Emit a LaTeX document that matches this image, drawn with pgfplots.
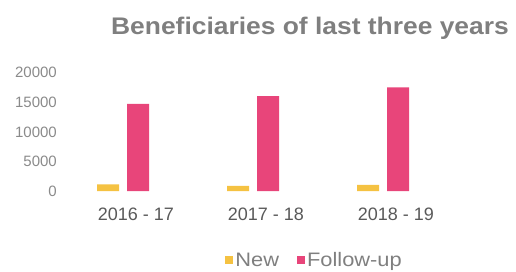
\documentclass[border=0pt]{standalone}
\usepackage{pgfplots}
\pgfplotsset{compat=1.18}
\usepackage{graphicx}
\usepackage{fontspec}
\setmainfont{Liberation Sans}
\definecolor{newc}{HTML}{F5C242}
\definecolor{fupc}{HTML}{E8457A}
\definecolor{titlec}{HTML}{7F7F7F}
\definecolor{tickc}{HTML}{8A8A8A}
\definecolor{labc}{HTML}{595959}
\begin{document}
\begin{tikzpicture}
\path[use as bounding box] (0,0) rectangle (516pt,271pt);
\node[anchor=base, text=titlec, font=\fontsize{24}{28}\selectfont\bfseries, inner sep=0pt] at (310pt,236pt) {\scalebox{1.1}[1]{Beneficiaries of last three years}};
\begin{axis}[
  at={(58pt,80pt)}, anchor=south west,
  scale only axis, width=390pt, height=118.3pt,
  xmin=-0.5, xmax=2.5, ymin=0, ymax=20000,
  axis lines=none, clip=false,
  ybar, bar width=22pt,
  xtick={0,1,2}, xticklabels={2016 - 17, 2017 - 18, 2018 - 19},
  ytick={0,5000,10000,15000,20000},
  scaled y ticks=false,
  major tick length=0pt,
  /pgf/number format/.cd, 1000 sep={}, assume math mode=true, /pgfplots/.cd,
  xticklabel style={font=\fontsize{18}{20}\selectfont, text=labc, anchor=north, inner sep=0pt, xshift=13pt, yshift=-17pt},
  yticklabel style={font=\fontsize{15}{17}\selectfont, text=tickc, anchor=east, inner sep=0pt, xshift=-1pt},
  hide x axis=false, hide y axis=false,
  x axis line style={draw=none}, y axis line style={draw=none},
  legend columns=2,
  legend style={draw=none, fill=none, font=\fontsize{19.5}{21}\selectfont, text=titlec, inner sep=0pt,
    nodes={inner sep=2pt},
    at={(0.658,-0.585)}, anchor=center, /tikz/every even column/.append style={column sep=16pt}},
  legend image code/.code={\fill[#1] (0pt,-4pt) rectangle (8pt,4pt);},
]
\addplot[fill=newc, draw=none, bar shift=-15pt] coordinates {(0,1100) (1,850) (2,1050)};
\addplot[fill=fupc, draw=none, bar shift=15pt] coordinates {(0,14750) (1,16050) (2,17500)};
\legend{\scalebox{1.12}[1]{New}, \scalebox{1.12}[1]{Follow-up}}
\end{axis}
\end{tikzpicture}
\end{document}
